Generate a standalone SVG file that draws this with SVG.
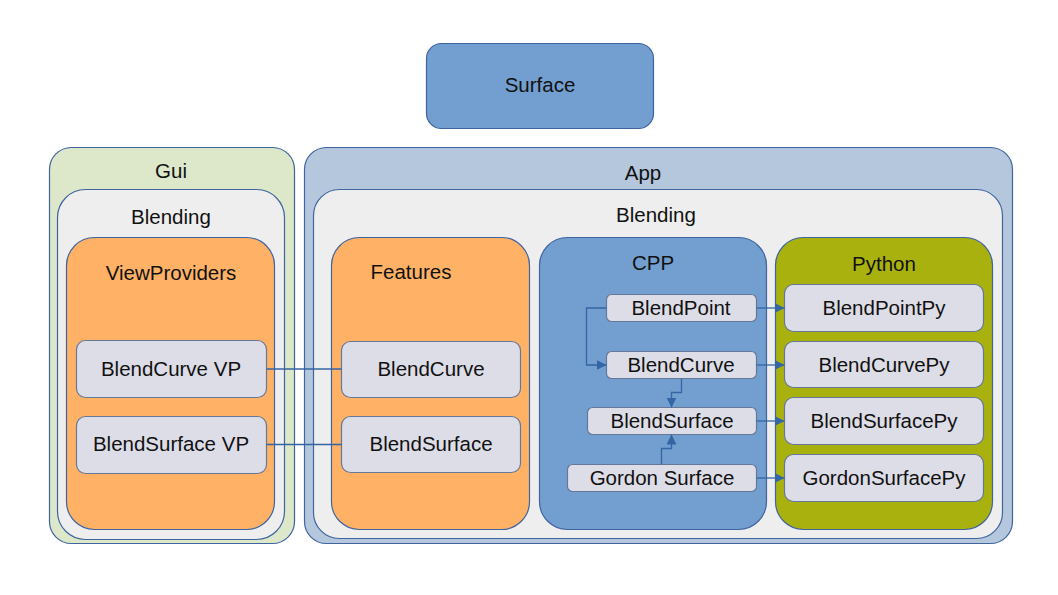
<svg xmlns="http://www.w3.org/2000/svg" width="1058" height="595" viewBox="0 0 1058 595">
<defs>
<style>
text{font-family:"Liberation Sans",Arial,sans-serif;font-size:20.5px;fill:#111;text-anchor:middle}
.c{stroke:#3f64a0;stroke-width:1.2}
.n{fill:#dddde8;stroke:#66789a;stroke-width:1.2}
.e{fill:none;stroke:#3465a4;stroke-width:1.3}
</style>
<marker id="a" viewBox="0 0 10 10" refX="10" refY="5" markerWidth="10" markerHeight="10" markerUnits="userSpaceOnUse" orient="auto"><path d="M0,0 L10,5 L0,10 z" fill="#3465a4"/></marker>
</defs>
<rect width="1058" height="595" fill="#fff"/>
<g id="surface"><rect x="426.5" y="43.5" width="227" height="85" rx="15" fill="#729fcf" class="c"/><text x="540" y="92">Surface</text></g>
<g id="gui"><rect x="49.5" y="147.5" width="245" height="396" rx="22" fill="#dde8ca" class="c"/><text x="171" y="178">Gui</text></g>
<g id="gui-blending"><rect x="57.5" y="189.5" width="227" height="350" rx="28" fill="#eeeeee" class="c"/><text x="171" y="224">Blending</text></g>
<g id="viewproviders"><rect x="66.5" y="237.5" width="208" height="292" rx="28" fill="#ffb266" class="c"/><text x="171" y="280">ViewProviders</text></g>
<g id="blendcurve-vp"><rect x="76.5" y="340.5" width="190" height="57" rx="9" class="n"/><text x="171" y="376">BlendCurve VP</text></g>
<g id="blendsurface-vp"><rect x="76.5" y="416.5" width="190" height="57" rx="9" class="n"/><text x="171" y="451">BlendSurface VP</text></g>
<g id="app"><rect x="304.5" y="147.5" width="708" height="396" rx="22" fill="#b4c7dc" class="c"/><text x="643" y="180">App</text></g>
<g id="app-blending"><rect x="313.5" y="189.5" width="689" height="349" rx="26" fill="#eeeeee" class="c"/><text x="656" y="222">Blending</text></g>
<g id="features"><rect x="331.5" y="237.5" width="198" height="292" rx="28" fill="#ffb266" class="c"/><text x="411" y="279">Features</text></g>
<g id="blendcurve"><rect x="341.5" y="341.5" width="179" height="56" rx="9" class="n"/><text x="431" y="376">BlendCurve</text></g>
<g id="blendsurface"><rect x="341.5" y="416.5" width="179" height="56" rx="9" class="n"/><text x="431" y="451">BlendSurface</text></g>
<g id="cpp"><rect x="539.5" y="237.5" width="227" height="292" rx="28" fill="#729fcf" class="c"/><text x="653" y="270">CPP</text></g>
<g id="cpp-blendpoint"><rect x="606.5" y="294.5" width="150" height="27" rx="5" class="n"/><text x="681" y="315">BlendPoint</text></g>
<g id="cpp-blendcurve"><rect x="606.5" y="351.5" width="150" height="27" rx="5" class="n"/><text x="681" y="372">BlendCurve</text></g>
<g id="cpp-blendsurface"><rect x="587.5" y="407.5" width="169" height="27" rx="5" class="n"/><text x="672" y="428">BlendSurface</text></g>
<g id="cpp-gordonsurface"><rect x="567.5" y="464.5" width="189" height="27" rx="5" class="n"/><text x="662" y="485">Gordon Surface</text></g>
<g id="python"><rect x="775.5" y="237.5" width="217" height="292" rx="28" fill="#a9b10f" class="c"/><text x="884" y="271">Python</text></g>
<g id="blendpointpy"><rect x="784.5" y="284.5" width="199" height="47" rx="9" class="n"/><text x="884" y="315">BlendPointPy</text></g>
<g id="blendcurvepy"><rect x="784.5" y="341.5" width="199" height="46" rx="9" class="n"/><text x="884" y="372">BlendCurvePy</text></g>
<g id="blendsurfacepy"><rect x="784.5" y="397.5" width="199" height="47" rx="9" class="n"/><text x="884" y="428">BlendSurfacePy</text></g>
<g id="gordonsurfacepy"><rect x="784.5" y="454.5" width="199" height="47" rx="9" class="n"/><text x="884" y="485">GordonSurfacePy</text></g>
<g id="connectors">
<path class="e" d="M266.5,369 H341.5"/>
<path class="e" d="M266.5,444.5 H341.5"/>
<path class="e" d="M756.5,308 H784.5" marker-end="url(#a)"/>
<path class="e" d="M756.5,365 H784.5" marker-end="url(#a)"/>
<path class="e" d="M756.5,421 H784.5" marker-end="url(#a)"/>
<path class="e" d="M756.5,478 H784.5" marker-end="url(#a)"/>
<path class="e" d="M606.5,308 H586.5 V365 H606.5" marker-end="url(#a)"/>
<path class="e" d="M681.5,378.5 V392.5 H671.5 V407.5" marker-end="url(#a)"/>
<path class="e" d="M661.5,464.5 V448.5 H671.5 V434.5" marker-end="url(#a)"/>
</g>
</svg>
